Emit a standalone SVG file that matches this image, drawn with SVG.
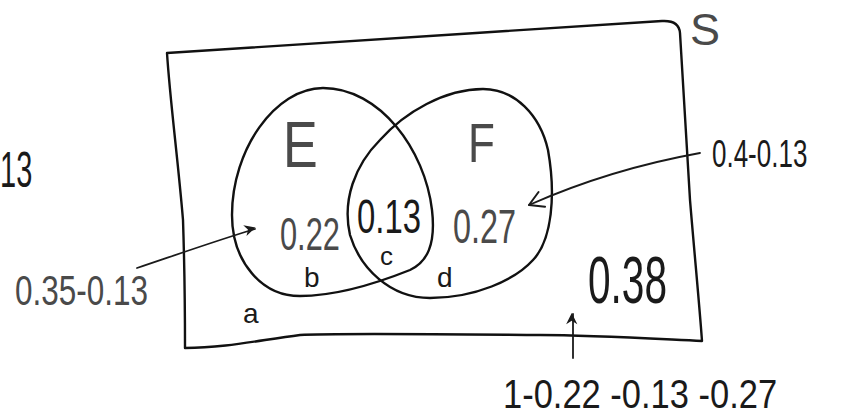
<svg xmlns="http://www.w3.org/2000/svg" width="841" height="419" viewBox="0 0 841 419">
<style>
  .ln{fill:none;stroke:#111;stroke-width:2.4;stroke-linecap:round;stroke-linejoin:round}
  .conn{fill:none;stroke:#1a1a1a;stroke-width:1.8;stroke-linecap:round}
  .t{font-family:"Liberation Sans","DejaVu Sans",sans-serif;fill:#1a1a1a}
  .p{font-family:"Liberation Sans","DejaVu Sans",sans-serif;fill:#4a4a4a}
</style>
<defs>
  <marker id="hf" viewBox="0 0 10 10" refX="9" refY="5" markerWidth="7" markerHeight="7" markerUnits="userSpaceOnUse" orient="auto" overflow="visible">
    <path d="M0,0 L10,5 L0,10 L3,5 Z" fill="#1a1a1a" transform="scale(1.6) translate(-3.5,-3)"/>
  </marker>
  <marker id="ho" viewBox="0 0 20 20" refX="18" refY="10" markerWidth="20" markerHeight="20" markerUnits="userSpaceOnUse" orient="auto" overflow="visible">
    <path d="M4,2 L18,10 L4,18" fill="none" stroke="#1a1a1a" stroke-width="2" stroke-linecap="round" stroke-linejoin="round"/>
  </marker>
</defs>

<g id="S">
  <path class="ln" d="M167,53 C300,45 500,31 662,21 Q679,20 680,33 L690,200 C695,260 699,300 702,341 C640,338 590,335 540,335 C420,334 330,333 300,335 C260,340 225,348 185,348 C185,300 184,250 183,220 C178,160 170,100 167,53 Z"/>
  <text class="p" x="690" y="45" font-size="45">S</text>
</g>

<g id="E">
  <path class="ln" d="M323,88 C380,88 425,150 432,210 C436,245 427,262 410,270 C380,282 340,296 300,296 C262,296 232,262 232,215 C232,150 275,88 323,88 Z"/>
  <text class="p" transform="translate(283,167) scale(1,1.25)" font-size="52">E</text>
</g>

<g id="F">
  <path class="ln" d="M483,89 C515,89 540,115 548,150 C556,195 552,240 533,260 C515,280 475,298 430,298 C390,298 360,268 350,235 C342,200 355,165 380,140 C405,112 445,89 483,89 Z"/>
  <text class="p" transform="translate(468,162) scale(1,1.27)" font-size="44">F</text>
</g>

<g id="regions">
  <text class="p" transform="translate(280,250) scale(1,1.5)" font-size="30.8">0.22</text>
  <text class="t" transform="translate(357,233) scale(1,1.49)" font-size="32.9">0.13</text>
  <text class="p" transform="translate(453,243) scale(1,1.5)" font-size="32.4">0.27</text>
  <text class="t" transform="translate(588,303) scale(1,1.62)" font-size="40.6">0.38</text>
  <text class="t" x="304" y="287" font-size="28">b</text>
  <text class="t" x="380" y="265" font-size="26">c</text>
  <text class="t" x="437" y="287" font-size="28">d</text>
  <text class="t" x="243" y="323" font-size="28">a</text>
</g>

<g id="labels">
  <text class="t" transform="translate(0,187) scale(1,1.7)" font-size="29">13</text>
  <text class="p" transform="translate(15,305) scale(1,1.33)" font-size="31.5">0.35-0.13</text>
  <text class="t" transform="translate(712,167) scale(1,1.5)" font-size="26">0.4-0.13</text>
  <text class="t" transform="translate(503,408) scale(1,1.2)" font-size="34.5">1-0.22 -0.13 -0.27</text>
</g>

<g id="connectors">
  <path class="conn" d="M137,268 C170,257 215,241 255,229" marker-end="url(#hf)"/>
  <path class="conn" d="M700,153 C650,162 590,178 529,205" marker-end="url(#ho)"/>
  <path class="conn" d="M573,358 L573,314" stroke-width="2.4" marker-end="url(#hf)"/>
</g>
</svg>
